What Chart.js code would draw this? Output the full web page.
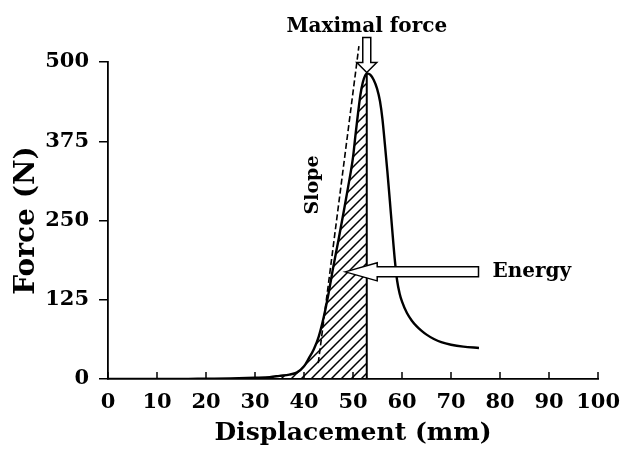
<!DOCTYPE html>
<html><head><meta charset="utf-8">
<script src="https://cdn.jsdelivr.net/npm/chart.js@4.4.1/dist/chart.umd.min.js"></script>
<style>html,body{margin:0;padding:0;background:#fff}canvas{display:block}</style>
</head><body>
<canvas id="c" width="631" height="458"></canvas>
<script>
// ---- data ----
const displacement = [0, 10, 15, 20, 25, 30, 33, 35, 37, 38.5, 40, 41, 42, 43, 44, 45, 46, 47, 48, 49, 50, 50.5, 51, 51.5, 52, 52.5, 52.8, 53.5, 54.2, 54.9, 55.5, 56, 56.5, 57, 57.5, 58, 58.5, 59, 59.5, 60, 61, 62, 63, 64, 65, 66.5, 68, 70, 72.5, 75.7];
const force        = [0, 0, 0, 0.5, 1, 2, 3, 5, 7, 10, 20, 33, 47, 67, 97, 135, 178, 218, 260, 303, 350, 385, 418, 448, 468, 479, 482, 480, 472, 458, 438, 410, 370, 328, 282, 235, 190, 155, 135, 122, 104, 92, 83, 76, 70, 63, 58, 54, 51, 49];
const slopeX = [42.9, 51.2];
const slopeY = [25, 525];
const xTickValues = [0, 10, 20, 30, 40, 50, 60, 70, 80, 90, 100];
const yTickValues = [0, 125, 250, 375, 500];
const energyArrowTip = [48.4, 169];
const energyArrowTail = 75.6;
const slopeLabelPos = [41.9, 306];
const hatchStart = 30;

// ---- derived ----
let peakIdx = 0;
force.forEach((v, i) => { if (v > force[peakIdx]) peakIdx = i; });
const peakX = displacement[peakIdx], peakY = force[peakIdx];
const curvePts = displacement.map((d, i) => ({x: d, y: force[i]}));
const hatchPts = curvePts.filter(p => p.x >= hatchStart && p.x <= peakX);
const edgePts = [{x: peakX, y: 0}, {x: peakX, y: peakY}];
const slopePts = slopeX.map((d, i) => ({x: d, y: slopeY[i]}));

const canvas = document.getElementById('c');
const ctx0 = canvas.getContext('2d');
function makeHatch() {
  const s = 10;
  const c = document.createElement('canvas'); c.width = s; c.height = s;
  const g = c.getContext('2d');
  g.strokeStyle = '#000'; g.lineWidth = 1.5;
  g.beginPath();
  g.moveTo(-1, s + 1); g.lineTo(s + 1, -1);
  g.moveTo(-s / 2 - 1, s / 2 + 1); g.lineTo(s / 2 + 1, -s / 2 - 1);
  g.moveTo(s / 2 - 1, s * 1.5 + 1); g.lineTo(s * 1.5 + 1, s / 2 - 1);
  g.stroke();
  return ctx0.createPattern(c, 'repeat');
}
const FONT = '"DejaVu Serif", "Liberation Serif", serif';

const annot = {
  id: 'annot',
  afterDatasetsDraw(chart) {
    const {ctx, chartArea} = chart;
    const x = chart.scales.x, y = chart.scales.y;
    ctx.save();
    ctx.strokeStyle = '#000'; ctx.lineWidth = 1.5; ctx.lineJoin = 'miter';
    // inward x ticks
    x.ticks.forEach(t => {
      const px = Math.round(x.getPixelForValue(t.value));
      ctx.beginPath(); ctx.moveTo(px, chartArea.bottom); ctx.lineTo(px, chartArea.bottom - 7); ctx.stroke();
    });
    // maximal force arrow
    const ax = x.getPixelForValue(peakX), ay = y.getPixelForValue(peakY) - 1;
    ctx.beginPath();
    ctx.moveTo(ax, ay); ctx.lineTo(ax - 10, ay - 10); ctx.lineTo(ax - 4, ay - 10); ctx.lineTo(ax - 4, ay - 35);
    ctx.lineTo(ax + 4, ay - 35); ctx.lineTo(ax + 4, ay - 10); ctx.lineTo(ax + 10, ay - 10); ctx.closePath();
    ctx.fillStyle = '#fff'; ctx.fill(); ctx.stroke();
    ctx.fillStyle = '#000';
    ctx.font = 'bold 20px ' + FONT; ctx.textAlign = 'center'; ctx.textBaseline = 'middle';
    ctx.fillText('Maximal force', ax, ay - 46);
    // energy arrow
    const ex = x.getPixelForValue(energyArrowTip[0]), ey = y.getPixelForValue(energyArrowTip[1]);
    const tx = x.getPixelForValue(energyArrowTail);
    ctx.beginPath();
    ctx.moveTo(ex, ey); ctx.lineTo(ex + 32, ey - 9); ctx.lineTo(ex + 32, ey - 5); ctx.lineTo(tx, ey - 5);
    ctx.lineTo(tx, ey + 5); ctx.lineTo(ex + 32, ey + 5); ctx.lineTo(ex + 32, ey + 9); ctx.closePath();
    ctx.fillStyle = '#fff'; ctx.fill(); ctx.stroke();
    ctx.fillStyle = '#000'; ctx.textAlign = 'left';
    ctx.fillText('Energy', tx + 14, ey);
    // slope label
    const sx = x.getPixelForValue(slopeLabelPos[0]), sy = y.getPixelForValue(slopeLabelPos[1]);
    ctx.translate(sx, sy); ctx.rotate(-Math.PI / 2);
    ctx.font = 'bold 19px ' + FONT; ctx.textAlign = 'center';
    ctx.fillText('Slope', 0, 0);
    ctx.restore();
  }
};

new Chart(canvas, {
  type: 'line',
  data: {
    datasets: [
      {data: hatchPts, fill: 'origin', backgroundColor: makeHatch(), borderWidth: 0, pointRadius: 0, cubicInterpolationMode: 'monotone', order: 4},
      {data: edgePts, borderColor: '#000', borderWidth: 2, pointRadius: 0, tension: 0, fill: false, order: 3},
      {data: curvePts, borderColor: '#000', borderWidth: 2.4, pointRadius: 0, cubicInterpolationMode: 'monotone', fill: false, order: 2},
      {data: slopePts, borderColor: '#000', borderWidth: 1.6, borderDash: [6, 3], pointRadius: 0, tension: 0, fill: false, clip: false, order: 1}
    ]
  },
  options: {
    responsive: false,
    animation: false,
    devicePixelRatio: 1,
    layout: {padding: {top: 62, right: 27, left: 0, bottom: 0}},
    plugins: {legend: {display: false}, tooltip: {enabled: false}},
    scales: {
      x: {
        type: 'linear', min: 0, max: 100,
        afterBuildTicks: s => { s.ticks = xTickValues.map(v => ({value: v})); },
        afterFit: s => { s.height = 79; },
        grid: {display: true, drawOnChartArea: false, drawTicks: false},
        border: {display: true, color: '#000', width: 1.8},
        ticks: {color: '#000', padding: 11, maxRotation: 0, font: {family: FONT, size: 21, weight: 'bold'}},
        title: {display: true, text: 'Displacement (mm)', color: '#000', padding: {top: 0, bottom: 10}, font: {family: FONT, size: 25, weight: 'bold'}}
      },
      y: {
        type: 'linear', min: 0, max: 500,
        afterBuildTicks: s => { s.ticks = yTickValues.map(v => ({value: v})); },
        afterFit: s => { s.width = 108; },
        grid: {display: true, drawOnChartArea: false, drawTicks: true, tickLength: 9, color: '#000', lineWidth: 1.5},
        border: {display: true, color: '#000', width: 1.8},
        ticks: {color: '#000', padding: 10, font: {family: FONT, size: 21, weight: 'bold'}},
        title: {display: true, text: 'Force (N)', color: '#000', padding: {top: 10, bottom: 0}, font: {family: FONT, size: 28, weight: 'bold'}}
      }
    }
  },
  plugins: [annot]
});
</script>
</body></html>
